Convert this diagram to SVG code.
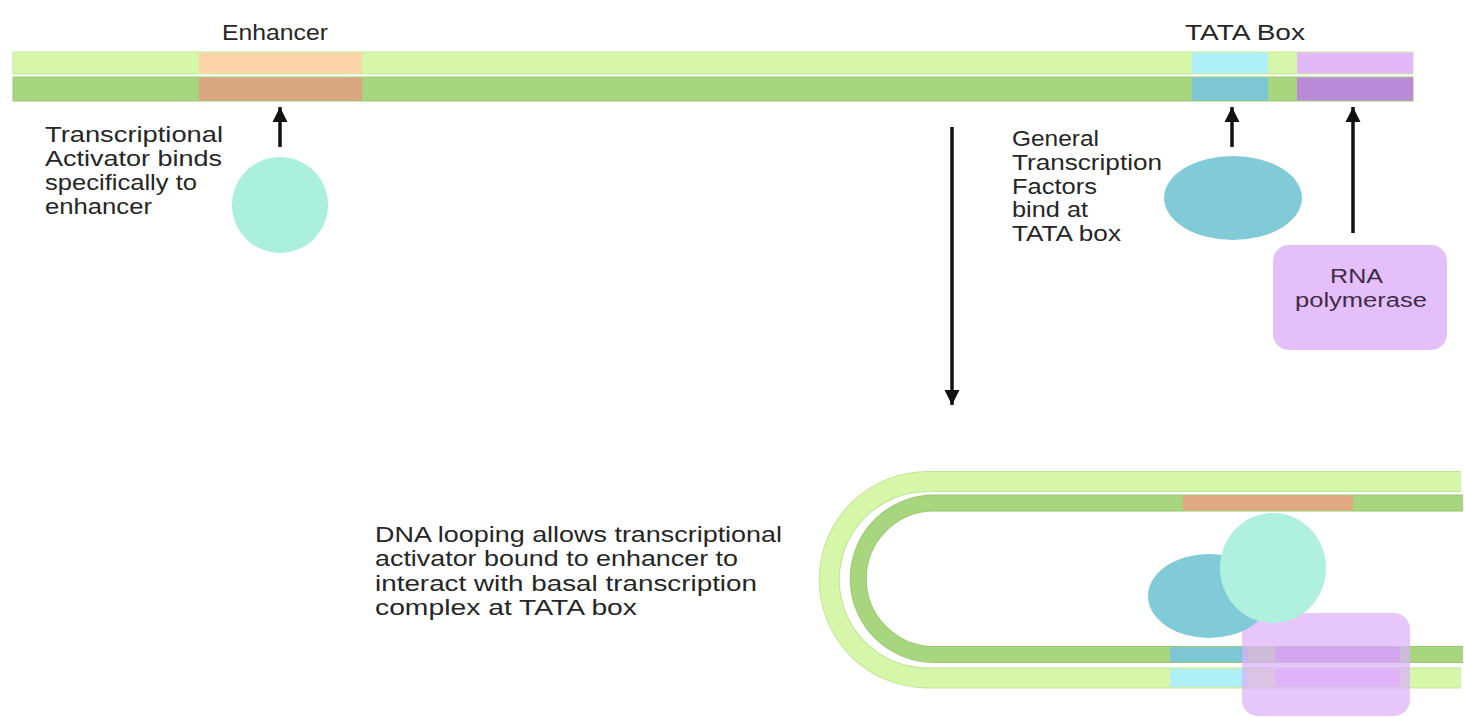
<svg xmlns="http://www.w3.org/2000/svg" width="1464" height="717" viewBox="0 0 1464 717">
  <defs>
    <style>
      .lbl { font-family: "Liberation Sans", Arial, Helvetica, sans-serif; font-size: 21.5px; fill: #262626; }
      .pol { font-family: "Liberation Sans", Arial, Helvetica, sans-serif; font-size: 20px; fill: #3e2c4a; }
      .light { fill: #d6f7aa; }
      .dark { fill: #a8d67f; }
      .arrow { stroke: #111; stroke-width: 3.5; fill: none; }
    </style>
    <marker id="ah" markerUnits="userSpaceOnUse" markerWidth="16" markerHeight="16" refX="15" refY="8" orient="auto" viewBox="0 0 16 16">
      <path d="M0 0.5 L15 8 L0 15.5 Z" fill="#111"/>
    </marker>
  </defs>
  <rect width="1464" height="717" fill="#ffffff"/>

  <!-- Top linear DNA -->
  <g id="dna-linear">
    <rect x="13" y="52" width="1400" height="22" class="light" stroke="#c3ea98" stroke-width="1"/>
    <rect x="13" y="77" width="1400" height="24" class="dark" stroke="#9ccb73" stroke-width="1"/>
    <rect x="199" y="52.5" width="163" height="21" fill="#fdd4a8"/>
    <rect x="199" y="77.5" width="163" height="23" fill="#d9a67f"/>
    <rect x="1192" y="52.5" width="76" height="21" fill="#aeeff8"/>
    <rect x="1192" y="77.5" width="76" height="23" fill="#7dc7d4"/>
    <rect x="1297" y="52.5" width="116" height="21" fill="#e4b7f8"/>
    <rect x="1297" y="77.5" width="116" height="23" fill="#b98ad7"/>
  </g>

  <g id="label-enhancer">
    <text class="lbl" x="222" y="40" textLength="106" lengthAdjust="spacingAndGlyphs">Enhancer</text>
  </g>
  <g id="label-tata">
    <text class="lbl" x="1185" y="40" textLength="120" lengthAdjust="spacingAndGlyphs">TATA Box</text>
  </g>

  <g id="activator-text">
    <text class="lbl" x="45" y="142" textLength="178" lengthAdjust="spacingAndGlyphs">Transcriptional</text>
    <text class="lbl" x="45" y="166" textLength="177" lengthAdjust="spacingAndGlyphs">Activator binds</text>
    <text class="lbl" x="45" y="190" textLength="152" lengthAdjust="spacingAndGlyphs">specifically to</text>
    <text class="lbl" x="45" y="214" textLength="107" lengthAdjust="spacingAndGlyphs">enhancer</text>
  </g>
  <g id="activator">
    <circle cx="280" cy="205" r="48" fill="#aaf0dd"/>
  </g>

  <g id="gtf-text">
    <text class="lbl" x="1012" y="146" textLength="87" lengthAdjust="spacingAndGlyphs">General</text>
    <text class="lbl" x="1012" y="170" textLength="150" lengthAdjust="spacingAndGlyphs">Transcription</text>
    <text class="lbl" x="1012" y="193.5" textLength="85" lengthAdjust="spacingAndGlyphs">Factors</text>
    <text class="lbl" x="1012" y="217" textLength="76" lengthAdjust="spacingAndGlyphs">bind at</text>
    <text class="lbl" x="1012" y="241" textLength="109" lengthAdjust="spacingAndGlyphs">TATA box</text>
  </g>
  <g id="gtf">
    <ellipse cx="1233" cy="198" rx="69" ry="42" fill="#80cbd7"/>
  </g>

  <g id="rna-polymerase">
    <rect x="1273" y="245" width="174" height="105" rx="16" fill="#e5c0f8"/>
    <text class="pol" x="1330" y="283" textLength="53" lengthAdjust="spacingAndGlyphs">RNA</text>
    <text class="pol" x="1295" y="307" textLength="132" lengthAdjust="spacingAndGlyphs">polymerase</text>
  </g>

  <!-- Connectors -->
  <g id="connectors">
    <line class="arrow" x1="280" y1="147" x2="280" y2="107" marker-end="url(#ah)"/>
    <line class="arrow" x1="1232" y1="147" x2="1232" y2="107" marker-end="url(#ah)"/>
    <line class="arrow" x1="1353" y1="233" x2="1353" y2="107" marker-end="url(#ah)"/>
    <line class="arrow" x1="952" y1="127" x2="952" y2="405" marker-end="url(#ah)"/>
  </g>

  <g id="loop-text">
    <text class="lbl" x="375" y="542" textLength="407" lengthAdjust="spacingAndGlyphs">DNA looping allows transcriptional</text>
    <text class="lbl" x="375" y="566" textLength="363" lengthAdjust="spacingAndGlyphs">activator bound to enhancer to</text>
    <text class="lbl" x="375" y="591" textLength="382" lengthAdjust="spacingAndGlyphs">interact with basal transcription</text>
    <text class="lbl" x="375" y="615" textLength="262" lengthAdjust="spacingAndGlyphs">complex at TATA box</text>
  </g>

  <!-- Looped DNA -->
  <g id="dna-loop">
    <path d="M1461 481.5 H927.5 A98.25 98.25 0 0 0 927.5 678 H1461" fill="none" stroke="#bfe594" stroke-width="21"/>
    <path d="M1461 481.5 H927.5 A98.25 98.25 0 0 0 927.5 678 H1461" fill="none" stroke="#d6f7aa" stroke-width="19"/>
    <path d="M1463 503 H934 A75.75 75.75 0 0 0 934 654.5 H1463" fill="none" stroke="#98c970" stroke-width="17"/>
    <path d="M1463 503 H934 A75.75 75.75 0 0 0 934 654.5 H1463" fill="none" stroke="#a8d67f" stroke-width="15"/>
    <rect x="1183" y="495.5" width="170" height="15" fill="#e1a982"/>
    <rect x="1170" y="647" width="78" height="15" fill="#7dc7d4"/>
    <rect x="1170" y="669" width="78" height="18" fill="#aeeff8"/>
    <rect x="1275" y="647" width="125" height="15" fill="#b98ad7"/>
    <rect x="1275" y="669" width="125" height="18" fill="#e4b7f8"/>
  </g>

  <g id="loop-polymerase">
    <rect x="1242" y="613" width="168" height="103" rx="16" fill="#dcb0fa" opacity="0.72"/>
  </g>
  <g id="loop-gtf">
    <ellipse cx="1209" cy="596" rx="61" ry="42" fill="#80cbd7"/>
  </g>
  <g id="loop-activator">
    <ellipse cx="1273" cy="568" rx="53" ry="55" fill="#aff0de"/>
  </g>
</svg>
